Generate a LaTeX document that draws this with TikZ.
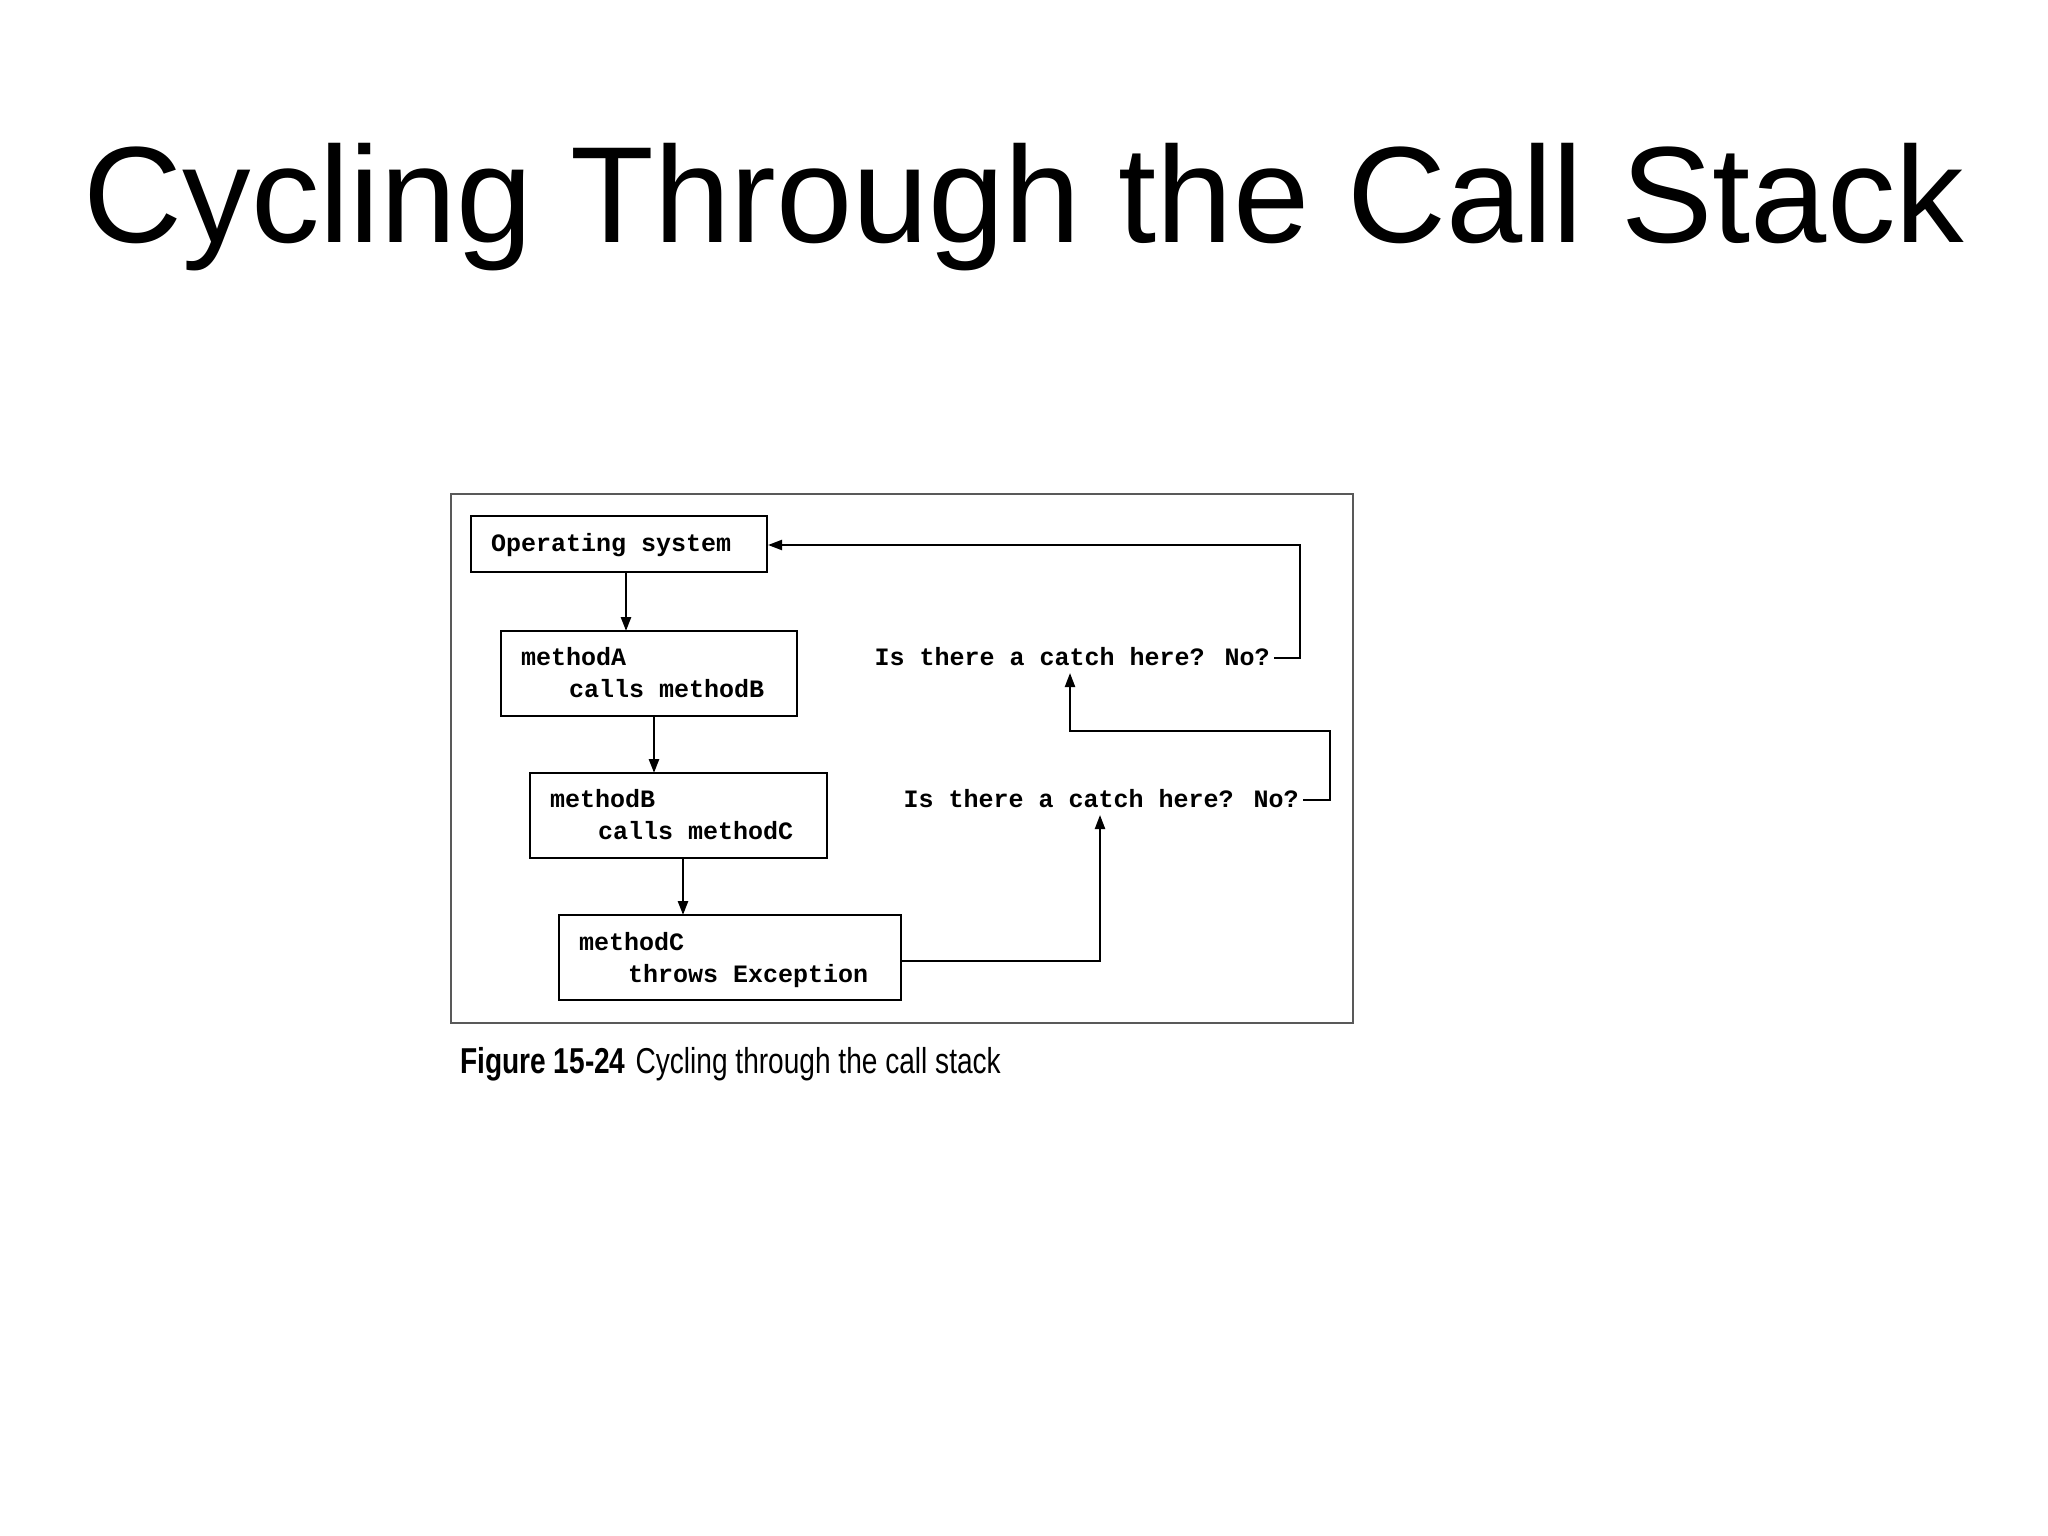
\documentclass[tikz,border=0pt]{standalone}
\usepackage{fontspec}
\setmainfont{Liberation Sans}
\newfontfamily\monof{Liberation Mono}
\newfontfamily\capf[FakeStretch=0.78]{Liberation Sans}
\usetikzlibrary{arrows.meta}
\begin{document}
\begin{tikzpicture}[x=1pt,y=-1pt,
  box/.style={draw,line width=2.6pt,inner sep=0pt},
  mt/.style={font=\monof\fontsize{25}{25}\selectfont\bfseries,inner sep=0pt,anchor=base west},
  lab/.style={font=\monof\fontsize{25}{25}\selectfont\bfseries,inner sep=0pt,anchor=base east},
  arr/.style={line width=2.6pt,-{Triangle[length=14pt,width=10pt]}},
  ln/.style={line width=2.2pt}]
\useasboundingbox (0,0) rectangle (2048,1536);
\fill[white] (0,0) rectangle (2048,1536);
\node[font=\fontsize{137}{137}\selectfont,anchor=base] (title) at (1024,242) {Cycling Through the Call Stack};
\draw[gray!70!black,line width=2pt] (451,494) rectangle (1353,1023);
\node[box,minimum width=296pt,minimum height=56pt] (os) at (619,544) {};
\node[box,minimum width=296pt,minimum height=85pt] (ma) at (649,673.5) {};
\node[box,minimum width=297pt,minimum height=85pt] (mb) at (678.5,815.5) {};
\node[box,minimum width=342pt,minimum height=85pt] (mc) at (730,957.5) {};
\node[mt] (t0) at (491,551) {Operating system};
\node[mt] (t1) at (521,665) {methodA};
\node[mt] (t2) at (569,697) {calls methodB};
\node[mt] (t3) at (550,807) {methodB};
\node[mt] (t4) at (598,839) {calls methodC};
\node[mt] (t5) at (579,950) {methodC};
\node[mt] (t6) at (628,982) {throws Exception};
\node[lab] (l1) at (1270,665) {Is there a catch here? No?};
\node[lab] (l2) at (1299,807) {Is there a catch here? No?};
\coordinate (c1) at (1300,545);
\coordinate (c2) at (1330,731);
\coordinate (c3) at (1070,673);
\coordinate (c4) at (1100,815);
\draw[arr] (626,572) -- (626,631);
\draw[arr] (654,716) -- (654,773);
\draw[arr] (683,858) -- (683,915);
\draw[ln,-{Triangle[length=14pt,width=10pt]}] (1274,658) -| (c1) -- (768,545);
\draw[ln,-{Triangle[length=14pt,width=10pt]}] (1303,800) -| (c2) -| (c3);
\draw[ln,-{Triangle[length=14pt,width=10pt]}] (901,961) -| (c4);
\node[font=\capf\fontsize{36}{36}\selectfont,anchor=base west,inner sep=0pt] (cap) at (460,1073) {\textbf{Figure 15-24}\hspace{10pt}Cycling through the call stack};
\end{tikzpicture}
\end{document}
